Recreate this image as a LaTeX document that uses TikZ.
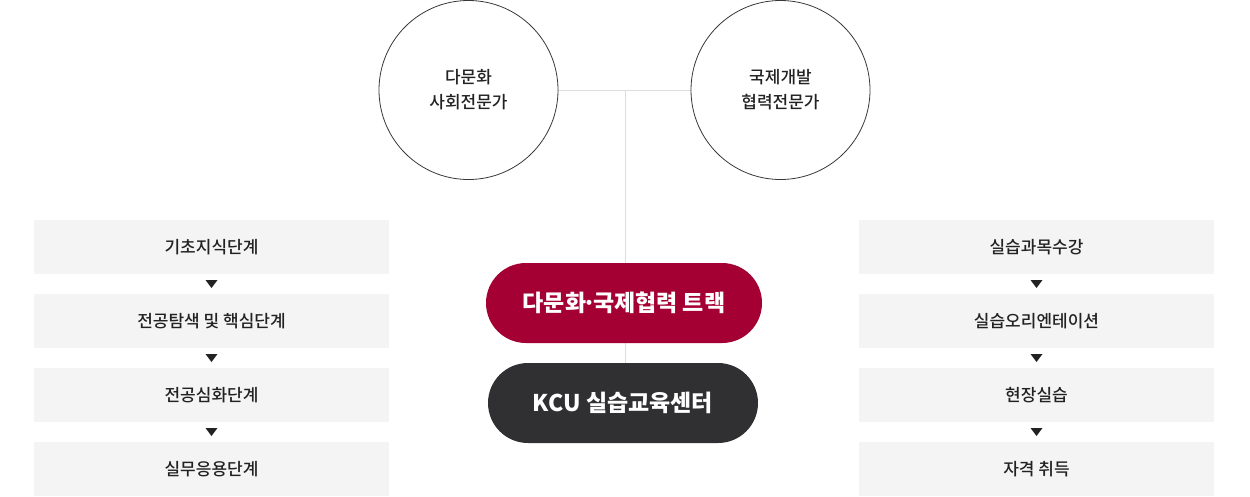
\documentclass[tikz,border=0pt]{standalone}
\usepackage{fontspec}
\setmainfont{Noto Sans CJK KR}
\newfontfamily\krmed{Noto Sans CJK KR Medium}
\usepackage{tikz}
\usetikzlibrary{backgrounds}
\definecolor{trackred}{HTML}{A50034}
\definecolor{centerdark}{HTML}{303033}
\definecolor{stagegray}{HTML}{F4F4F4}
\definecolor{linegray}{HTML}{DDDDDD}
\definecolor{inkdark}{HTML}{222222}
\newcommand{\middot}{\makebox[0.3em][c]{·}}

\begin{document}
\begin{tikzpicture}[x=1pt,y=-1pt,
    expert/.style={circle,draw=inkdark!90,line width=0.8pt,minimum size=179pt,inner sep=0pt,align=center,text=inkdark,font=\krmed\fontsize{17}{25}\selectfont},
    pill/.style={rounded corners=40pt,minimum height=80pt,text=white,font=\fontsize{23}{27}\selectfont\bfseries},
    stagebox/.style={fill=stagegray,minimum width=355pt,minimum height=54pt,inner sep=0pt,text=inkdark,font=\krmed\fontsize{17}{20}\selectfont},
    downmark/.style={fill=inkdark}]
  \useasboundingbox (0,0) rectangle (1250,496);

  % experts
  \node[expert] (multi) at (468.5,90) {다문화\\사회전문가};
  \node[expert] (intl) at (780.5,90) {국제개발\\협력전문가};
  \coordinate (hub) at (625,90);

  % track and center
  \node[pill,fill=trackred,minimum width=276pt] (track) at (624,303) {다문화\middot 국제협력 트랙};
  \node[pill,fill=centerdark,minimum width=270pt] (kcu) at (623,403) {KCU 실습교육센터};
  \begin{scope}[on background layer]
    \draw[linegray,line width=1pt] (multi.east) -- (intl.west);
    \draw[linegray,line width=1pt] (hub) -- (hub |- kcu.north);
  \end{scope}

  % study stages
  \foreach \txt [count=\i] in {기초지식단계, 전공탐색 및 핵심단계, 전공심화단계, 실무응용단계}
    \node[stagebox] (study\i) at (211.5,{247+74*(\i-1)}) {\txt};
  % practice stages
  \foreach \txt [count=\i] in {실습과목수강, 실습오리엔테이션, 현장실습, 자격 취득}
    \node[stagebox] (prac\i) at (1036.5,{247+74*(\i-1)}) {\txt};

  \foreach \i in {1,2,3} {
    \pgfmathtruncatemacro\j{\i+1}
    \path (study\i.south) -- (study\j.north) coordinate[midway] (sm);
    \fill[downmark] (sm) ++(-6,-4) -- ++(12,0) -- ++(-6,8) -- cycle;
    \path (prac\i.south) -- (prac\j.north) coordinate[midway] (pm);
    \fill[downmark] (pm) ++(-6,-4) -- ++(12,0) -- ++(-6,8) -- cycle;
  }
\end{tikzpicture}
\end{document}
